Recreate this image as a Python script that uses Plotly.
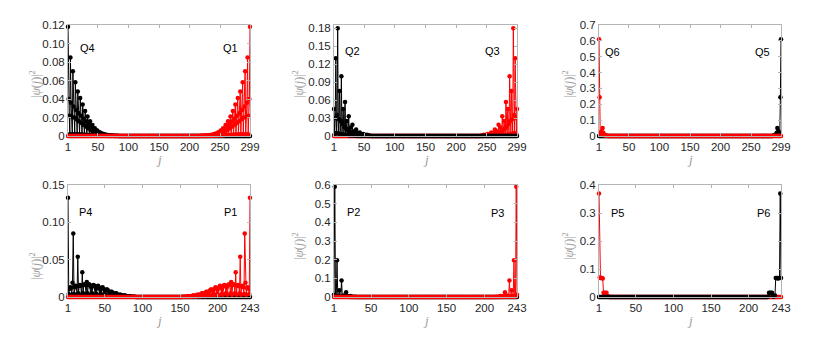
import plotly.graph_objects as go

N_Q = 299
N_P = 243

# ---------------- data (|psi(j)|^2) ----------------
# Q4: black, localized at the left edge (values for j = 1, 2, 3, ...)
q4_head = [
    0.118, 0.040, 0.022, 0.002,
    0.085, 0.036, 0.021, 0.002,
    0.070, 0.032, 0.020, 0.002,
    0.058, 0.028, 0.018, 0.002,
    0.048, 0.025, 0.016, 0.002,
    0.041, 0.022, 0.014, 0.0015,
    0.034, 0.019, 0.012, 0.0015,
    0.027, 0.016, 0.010, 0.001,
    0.021, 0.013, 0.008, 0.001,
    0.016, 0.010, 0.006, 0.001,
    0.012, 0.008, 0.0048, 0.0008,
    0.0085, 0.006, 0.0036, 0.0006,
    0.006, 0.0045, 0.0026, 0.0005,
    0.004, 0.003, 0.0018, 0.0004,
    0.0028, 0.002, 0.0012, 0.0003,
    0.0018, 0.0014, 0.0008, 0.0002,
    0.0012, 0.001, 0.0005, 0.0001,
    0.0008, 0.0007, 0.0003, 0.0001,
    0.0005, 0.0004, 0.0002, 0.0,
    0.0003, 0.0003, 0.0001, 0.0,
    0.0002, 0.0002, 0.0001, 0.0,
]
q4 = q4_head + [0.0] * (N_Q - len(q4_head))
q1 = q4[::-1]          # Q1: red, mirror image at the right edge

# Q2: black, left edge
q2_head = [
    0.045, 0.003, 0.030, 0.130, 0.005, 0.035, 0.180, 0.004, 0.028, 0.075,
    0.003, 0.025, 0.100, 0.003, 0.020, 0.045, 0.002, 0.015, 0.057, 0.002,
    0.012, 0.025, 0.002, 0.009, 0.033, 0.001, 0.007, 0.014, 0.001, 0.005,
    0.019, 0.001, 0.004, 0.008, 0.001, 0.003, 0.011, 0.0, 0.002, 0.005,
    0.0, 0.0015, 0.006, 0.0, 0.001, 0.003, 0.0, 0.0008, 0.0035, 0.0,
    0.0005, 0.0015, 0.0, 0.0003, 0.002, 0.0, 0.0002, 0.001, 0.0, 0.0005,
]
q2 = q2_head + [0.0] * (N_Q - len(q2_head))
q3 = q2[::-1]          # Q3: red, right edge

# Q6: red, left edge
q6_head = [0.61, 0.245, 0.010, 0.020, 0.030, 0.015, 0.050, 0.020, 0.010,
           0.008, 0.005, 0.003, 0.002, 0.001]
q6 = q6_head + [0.0] * (N_Q - len(q6_head))
q5 = q6[::-1]          # Q5: black, right edge

# P4: black, left edge
p4_head = [
    0.133, 0.004, 0.011, 0.013, 0.012, 0.003, 0.019, 0.085, 0.004, 0.013,
    0.015, 0.014, 0.003, 0.054, 0.005, 0.015, 0.016, 0.015, 0.003, 0.033,
    0.005, 0.016, 0.017, 0.016, 0.003, 0.020, 0.005, 0.016, 0.017, 0.016,
    0.003, 0.013, 0.005, 0.015, 0.016, 0.015, 0.003, 0.011, 0.004, 0.014,
    0.015, 0.013, 0.002, 0.010, 0.004, 0.012, 0.013, 0.011, 0.002, 0.008,
    0.003, 0.010, 0.010, 0.009, 0.002, 0.006, 0.002, 0.007, 0.007, 0.006,
    0.001, 0.004, 0.002, 0.005, 0.005, 0.004, 0.001, 0.003, 0.001, 0.003,
    0.003, 0.0025, 0.0005, 0.002, 0.0008, 0.002, 0.002, 0.0015, 0.0003, 0.001,
    0.0004, 0.001, 0.001, 0.0008, 0.0002, 0.0005, 0.0002, 0.0005, 0.0004, 0.0003,
]
p4 = p4_head + [0.0] * (N_P - len(p4_head))
p1 = p4[::-1]          # P1: red, right edge

# P2: black, left edge
p2_head = [
    0.012, 0.590, 0.003, 0.002, 0.197, 0.002, 0.004, 0.036, 0.002, 0.003,
    0.088, 0.002, 0.003, 0.008, 0.001, 0.002, 0.025, 0.001, 0.001, 0.004,
    0.0, 0.001, 0.006, 0.0, 0.0, 0.002, 0.0, 0.0, 0.002, 0.0,
]
p2 = p2_head + [0.0] * (N_P - len(p2_head))
p3 = p2[::-1]          # P3: red, right edge

# P5: red, left edge
p5_head = [0.37, 0.070, 0.068, 0.068, 0.068, 0.066, 0.015, 0.014, 0.015,
           0.014, 0.015, 0.003, 0.002, 0.001]
p5 = p5_head + [0.0] * (N_P - len(p5_head))

# P6: black, right edge (values for j = 226 ... 243)
p6_tail = [0.001, 0.015, 0.014, 0.015, 0.014, 0.015, 0.004, 0.002, 0.003,
           0.005, 0.068, 0.068, 0.068, 0.066, 0.068, 0.068, 0.37, 0.068]
p6 = [0.0] * (N_P - len(p6_tail)) + p6_tail

# tick labels
q_xticks = [1, 50, 100, 150, 200, 250, 299]
p_xticks = [1, 50, 100, 150, 200, 243]
yt1 = [0, 0.02, 0.04, 0.06, 0.08, 0.10, 0.12]
yl1 = ["0", "0.02", "0.04", "0.06", "0.08", "0.10", "0.12"]
yt2 = [0, 0.03, 0.06, 0.09, 0.12, 0.15, 0.18]
yl2 = ["0", "0.03", "0.06", "0.09", "0.12", "0.15", "0.18"]
yt3 = [0, 0.1, 0.2, 0.3, 0.4, 0.5, 0.6, 0.7]
yl3 = ["0", "0.1", "0.2", "0.3", "0.4", "0.5", "0.6", "0.7"]
yt4 = [0, 0.05, 0.10, 0.15]
yl4 = ["0", "0.05", "0.10", "0.15"]
yt5 = [0, 0.1, 0.2, 0.3, 0.4, 0.5, 0.6]
yl5 = ["0", "0.1", "0.2", "0.3", "0.4", "0.5", "0.6"]
yt6 = [0, 0.1, 0.2, 0.3, 0.4]
yl6 = ["0", "0.1", "0.2", "0.3", "0.4"]

# ---------------- layout helpers ----------------
W, H = 830, 364
col_px = [(68, 250), (334, 517), (599, 781)]
row_px = [(25, 136), (185, 297)]
ytitle_x = [35, 298, 568]


def fx(px):
    return px / W


def fy(py):
    return 1 - py / H


panels = [
    dict(row=0, col=0, n=N_Q, black=q4, red=q1, yr=[0, 0.12], yt=yt1, yl=yl1,
         xt=q_xticks, lab=[("Q4", 87, 48), ("Q1", 230, 48)], black_top=False, yty=84),
    dict(row=0, col=1, n=N_Q, black=q2, red=q3, yr=[0, 0.1855], yt=yt2, yl=yl2,
         xt=q_xticks, lab=[("Q2", 352, 51), ("Q3", 492, 51)], black_top=True, yty=84),
    dict(row=0, col=2, n=N_Q, black=q5, red=q6, yr=[0, 0.7], yt=yt3, yl=yl3,
         xt=q_xticks, lab=[("Q6", 612, 52), ("Q5", 762, 52)], black_top=False, yty=84),
    dict(row=1, col=0, n=N_P, black=p4, red=p1, yr=[0, 0.15], yt=yt4, yl=yl4,
         xt=p_xticks, lab=[("P4", 85, 212), ("P1", 230, 212)], black_top=False, yty=266),
    dict(row=1, col=1, n=N_P, black=p2, red=p3, yr=[0, 0.6], yt=yt5, yl=yl5,
         xt=p_xticks, lab=[("P2", 353, 212), ("P3", 497, 213)], black_top=False, yty=246),
    dict(row=1, col=2, n=N_P, black=p6, red=p5, yr=[0, 0.4], yt=yt6, yl=yl6,
         xt=p_xticks, lab=[("P5", 617, 213), ("P6", 763, 213)], black_top=True, yty=246),
]

fig = go.Figure()
layout = dict(
    width=W, height=H,
    margin=dict(l=0, r=0, t=0, b=0, autoexpand=False),
    paper_bgcolor="white", plot_bgcolor="white",
    showlegend=False,
    font=dict(family="Liberation Sans, Arial, sans-serif", size=11.5, color="#262626"),
)
annotations = []
frame_color = "#b4b4b4"

for i, p in enumerate(panels):
    k = i + 1
    xa = "x" if k == 1 else f"x{k}"
    ya = "y" if k == 1 else f"y{k}"
    j = list(range(1, p["n"] + 1))
    series = [("black", p["black"]), ("red", p["red"])]
    if p["black_top"]:
        series = series[::-1]
    for color, vals in series:
        fig.add_trace(go.Scatter(
            x=j, y=vals, xaxis=xa, yaxis=ya, mode="lines+markers",
            line=dict(color=color, width=1),
            marker=dict(color=color, size=4.5),
            cliponaxis=False, hoverinfo="skip",
        ))
    c0, c1 = col_px[p["col"]]
    r0, r1 = row_px[p["row"]]
    axis_common = dict(
        showline=True, linecolor=frame_color, linewidth=1, mirror="ticks",
        ticks="inside", ticklen=3, tickcolor=frame_color,
        showgrid=False, zeroline=False, automargin=False,
    )
    layout["xaxis" if k == 1 else f"xaxis{k}"] = dict(
        domain=[fx(c0), fx(c1)], range=[1, p["n"]], anchor=ya,
        tickvals=p["xt"], ticktext=[str(v) for v in p["xt"]],
        **axis_common,
    )
    layout["yaxis" if k == 1 else f"yaxis{k}"] = dict(
        domain=[fy(r1), fy(r0)], range=p["yr"], anchor=xa,
        tickvals=p["yt"], ticktext=p["yl"],
        **axis_common,
    )
    for text, px, py in p["lab"]:
        annotations.append(dict(
            text=text, x=fx(px), y=fy(py), xref="paper", yref="paper",
            showarrow=False, font=dict(size=11, color="black"),
            xanchor="center", yanchor="middle",
        ))
    # y axis title
    annotations.append(dict(
        text="|<i>ψ</i>(<i>j</i>)|<sup>2</sup>",
        x=fx(ytitle_x[p["col"]]), y=fy(p["yty"]), xref="paper", yref="paper",
        showarrow=False, textangle=-90,
        font=dict(family="Liberation Serif, serif", size=12, color="#9a9a9a"),
        xanchor="center", yanchor="middle",
    ))
    # x axis title
    annotations.append(dict(
        text="<i>j</i>", x=fx((c0 + c1) / 2), y=fy(r1 + 23), xref="paper", yref="paper",
        showarrow=False,
        font=dict(family="Liberation Serif, serif", size=13, color="#9a9a9a"),
        xanchor="center", yanchor="middle",
    ))

layout["annotations"] = annotations
fig.update_layout(**layout)
fig.write_html(
    "out.html",
    config={"displayModeBar": False},
    post_script="document.body.style.margin='0';document.body.style.padding='0';"
                "document.body.style.overflow='hidden';",
)
